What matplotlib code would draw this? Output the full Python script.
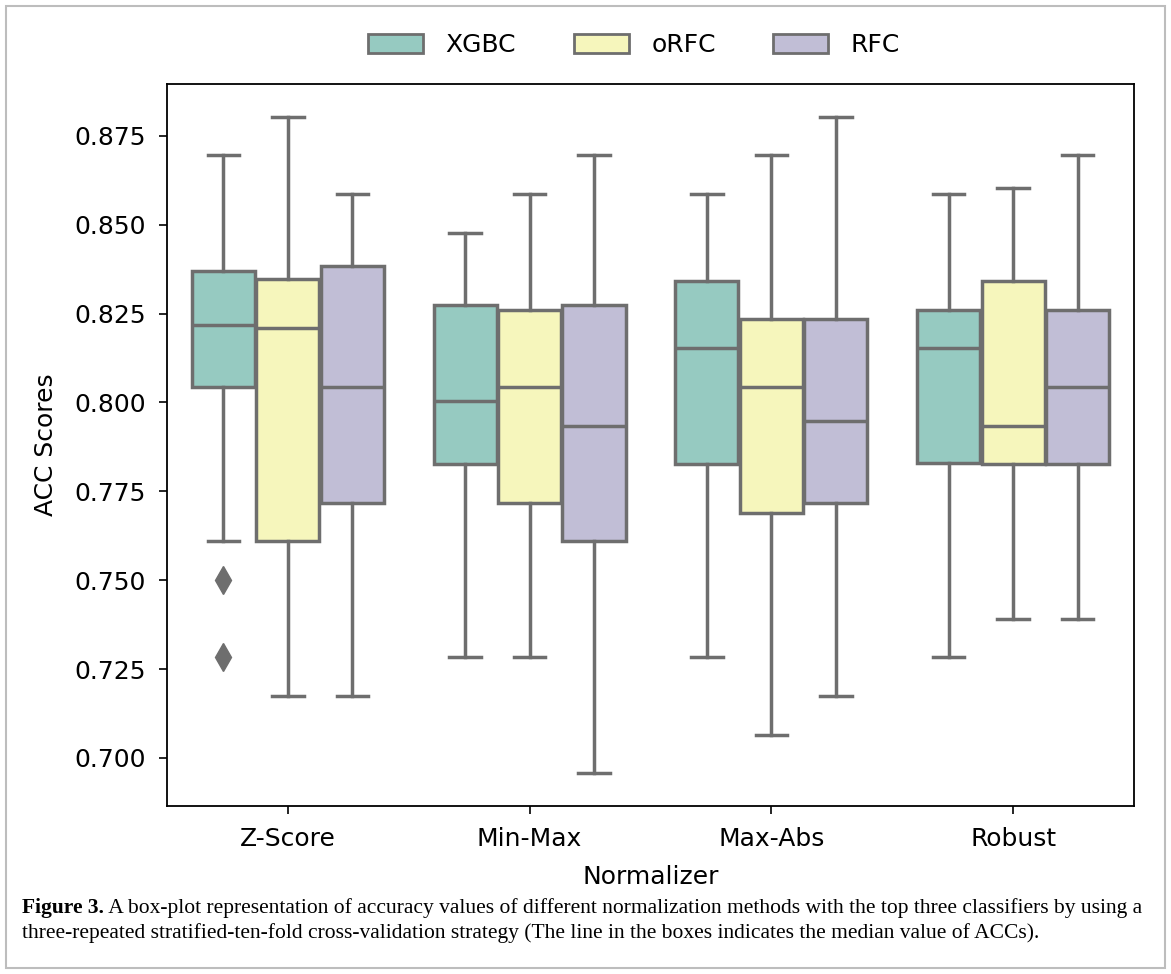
import matplotlib
matplotlib.use("Agg")
import matplotlib.pyplot as plt
import matplotlib.patches as mpatches
import seaborn as sns

# normalizers on the x axis
normalizers = ["Z-Score", "Min-Max", "Max-Abs", "Robust"]
classifiers = ["XGBC", "oRFC", "RFC"]

# box stats (one value per normalizer)
xgbc_whislo = [0.7609, 0.7283, 0.7283, 0.7283]
xgbc_q1 = [0.8043, 0.7826, 0.7826, 0.7830]
xgbc_med = [0.8217, 0.8004, 0.8152, 0.8152]
xgbc_q3 = [0.8370, 0.8274, 0.8342, 0.8261]
xgbc_whishi = [0.8696, 0.8478, 0.8587, 0.8587]
xgbc_fliers = [[0.7500, 0.7283], [], [], []]

orfc_whislo = [0.7174, 0.7283, 0.7065, 0.7391]
orfc_q1 = [0.7609, 0.7717, 0.7690, 0.7826]
orfc_med = [0.8210, 0.8043, 0.8043, 0.7935]
orfc_q3 = [0.8347, 0.8261, 0.8236, 0.8342]
orfc_whishi = [0.8804, 0.8587, 0.8696, 0.8602]
orfc_fliers = [[], [], [], []]

rfc_whislo = [0.7174, 0.6957, 0.7174, 0.7391]
rfc_q1 = [0.7717, 0.7609, 0.7717, 0.7826]
rfc_med = [0.8043, 0.7935, 0.7948, 0.8043]
rfc_q3 = [0.8384, 0.8274, 0.8236, 0.8261]
rfc_whishi = [0.8587, 0.8696, 0.8804, 0.8696]
rfc_fliers = [[], [], [], []]

caption_bold = "Figure 3."
caption_rest = (" A box-plot representation of accuracy values of different normalization methods with the top three classifiers by using a")
caption_line2 = ("three-repeated stratified-ten-fold cross-validation strategy (The line in the boxes indicates the median value of ACCs).")

all_stats = [
    (xgbc_whislo, xgbc_q1, xgbc_med, xgbc_q3, xgbc_whishi, xgbc_fliers),
    (orfc_whislo, orfc_q1, orfc_med, orfc_q3, orfc_whishi, orfc_fliers),
    (rfc_whislo, rfc_q1, rfc_med, rfc_q3, rfc_whishi, rfc_fliers),
]

# seaborn-like look: desaturated Set3 fill and grey lines
colors = [sns.desaturate(c, 0.75) for c in sns.color_palette("Set3", 3)]
gray = "#6e6e6e"
lw = 2.5

fig = plt.figure(figsize=(11.71, 9.74), dpi=100)
ax = fig.add_axes([0.1426, 0.1725, 0.8258, 0.7413])

nested_w = 0.8 / 3
for j, (wlo, q1, med, q3, whi, fl) in enumerate(all_stats):
    stats = []
    for i in range(len(normalizers)):
        stats.append({"whislo": wlo[i], "q1": q1[i], "med": med[i],
                      "q3": q3[i], "whishi": whi[i], "fliers": fl[i]})
    positions = [i + (j - 1) * nested_w for i in range(len(normalizers))]
    ax.bxp(stats, positions=positions, widths=nested_w * 0.98,
           patch_artist=True, manage_ticks=False,
           boxprops=dict(facecolor=colors[j], edgecolor=gray, linewidth=lw),
           medianprops=dict(color=gray, linewidth=lw),
           whiskerprops=dict(color=gray, linewidth=lw),
           capprops=dict(color=gray, linewidth=lw),
           flierprops=dict(marker="d", markerfacecolor=gray, markeredgecolor=gray,
                           markersize=14, linestyle="none"))

ax.set_xlim(-0.5, len(normalizers) - 0.5)
ax.set_ylim(0.6865, 0.8896)
ax.set_xticks(range(len(normalizers)))
ax.set_xticklabels(normalizers)
ax.set_yticks([0.700, 0.725, 0.750, 0.775, 0.800, 0.825, 0.850, 0.875])
ax.set_yticklabels([f"{v:.3f}" for v in ax.get_yticks()])
ax.tick_params(labelsize=18, length=6, width=1.2, pad=9)
for s in ax.spines.values():
    s.set_linewidth(1.3)
ax.set_xlabel("Normalizer", fontsize=18, labelpad=10)
ax.set_ylabel("ACC Scores", fontsize=18, labelpad=12)

handles = [mpatches.Patch(facecolor=colors[j], edgecolor=gray, linewidth=2)
           for j in range(3)]
fig.legend(handles, classifiers, loc="center", bbox_to_anchor=(0.5415, 0.954),
           ncol=3, frameon=False, fontsize=18, handlelength=2.2,
           handleheight=0.8, handletextpad=0.9, columnspacing=2.3)

# caption below the chart
serif = ["Liberation Serif", "DejaVu Serif"]
cap_size = 15.5
t1 = fig.text(22 / 1171, 1 - 908 / 974, caption_bold, fontsize=cap_size,
              fontweight="bold", family=serif, va="center", ha="left")
fig.canvas.draw()
bb = t1.get_window_extent()
fig.text(bb.x1 / fig.bbox.width, 1 - 908 / 974, caption_rest, fontsize=cap_size,
         family=serif, va="center", ha="left")
fig.text(22 / 1171, 1 - 933 / 974, caption_line2, fontsize=cap_size,
         family=serif, va="center", ha="left")

# thin grey frame round the whole figure
fig.patches.append(mpatches.Rectangle((6 / 1171, 6 / 974), 1159 / 1171, 962 / 974,
                                      transform=fig.transFigure, fill=False,
                                      edgecolor="#bdbdbd", linewidth=1.5))

fig.savefig("out.png", dpi=100)
